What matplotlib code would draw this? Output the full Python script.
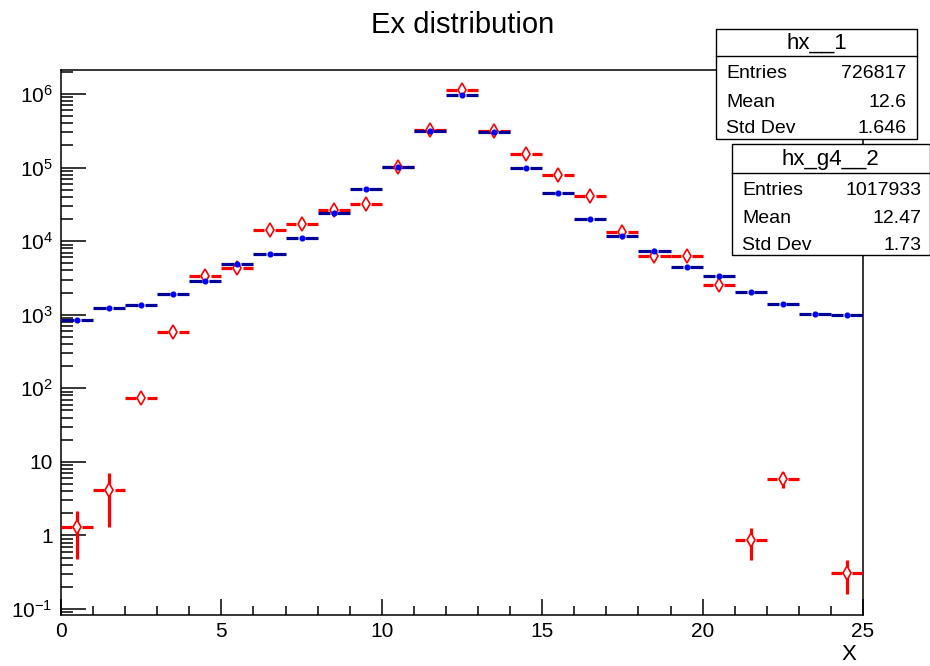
#!/usr/bin/env python3
"""ROOT-style overlay of two Ex histograms (hx__1 vs hx_g4__2) on a log scale."""
import numpy as np
import matplotlib
matplotlib.use("Agg")
import matplotlib.pyplot as plt
from matplotlib.ticker import LogLocator, FixedLocator, MultipleLocator, NullFormatter
from matplotlib.patches import Rectangle

plt.rcParams.update({
    "font.family": ["Liberation Sans", "DejaVu Sans"],
    "mathtext.fontset": "custom",
    "mathtext.rm": "Liberation Sans",
    "mathtext.it": "Liberation Sans",
})

# bin centres (25 unit-wide bins from 0 to 25)
bin_centers = [0.5, 1.5, 2.5, 3.5, 4.5, 5.5, 6.5, 7.5, 8.5, 9.5, 10.5, 11.5, 12.5,
               13.5, 14.5, 15.5, 16.5, 17.5, 18.5, 19.5, 20.5, 21.5, 22.5, 23.5, 24.5]

# hx__1 (blue)
hx1_counts = [850, 1220, 1360, 1920, 2910, 4920, 6600, 10900, 23900, 51900, 102000, 317000,
              980000, 305000, 100000, 44700, 19900, 11700, 7400, 4470, 3330, 2060, 1400, 1020, 980]

# hx_g4__2 (red), 0 = empty bin
hx2_counts = [1.3, 4.2, 75, 590, 3400, 4340, 14100, 16900, 26500, 31700, 102000, 320000,
              1120000, 315000, 152000, 78700, 41700, 13300, 6380, 6380, 2570, 0.87, 5.9, 0, 0.31]
hx2_errors = [0.82, 2.9, 9, 25, 60, 70, 120, 130, 160, 180, 320, 560,
              1060, 560, 390, 280, 200, 115, 80, 80, 50, 0.4, 1.5, 0, 0.15]

stats_boxes = [
    ("hx__1", [("Entries", "726817"), ("Mean", "12.6"), ("Std Dev", "1.646")]),
    ("hx_g4__2", [("Entries", "1017933"), ("Mean", "12.47"), ("Std Dev", "1.73")]),
]

W, H = 930, 666
fig = plt.figure(figsize=(W / 100, H / 100), dpi=100)


def fx(px):
    return px / W


def fy(py):
    return 1 - py / H


ax = fig.add_axes([fx(61), fy(615), fx(863) - fx(61), fy(70) - fy(615)])
ax.set_yscale("log")
ax.set_xlim(0, 25)
ax.set_ylim(0.083, 2.12e6)

half = 0.5


def draw_hist(x, y, err, bar_col, mk_col, marker, ms, gap, face):
    x = np.asarray(x, float)
    y = np.asarray(y, float)
    ok = y > 0
    x, y = x[ok], y[ok]
    ax.hlines(y, x - half, x - gap, color=bar_col, lw=2.3, zorder=3)
    ax.hlines(y, x + gap, x + half, color=bar_col, lw=2.3, zorder=3)
    if err is not None:
        e = np.asarray(err, float)[ok]
        lo = np.maximum(y - e, 1e-3)
        ax.vlines(x, lo, y + e, color=bar_col, lw=2.3, zorder=3)
    ax.plot(x, y, ls="none", marker=marker, ms=ms, mfc=face, mec=mk_col,
            mew=1.2, zorder=4)


draw_hist(bin_centers, hx2_counts, hx2_errors, "#ff0000", "#ff0000", "d", 7.2, 0.17, "white")
draw_hist(bin_centers, hx1_counts, None, "#000099", "#0000ff", "o", 3.2, 0.11, "#0000ff")

# ROOT-like axes
for s in ax.spines.values():
    s.set_linewidth(1.1)
ax.xaxis.set_major_locator(MultipleLocator(5))
ax.xaxis.set_minor_locator(MultipleLocator(1))
ax.yaxis.set_minor_locator(LogLocator(base=10, subs=np.arange(2, 10), numticks=20))
ax.yaxis.set_minor_formatter(NullFormatter())
ytick_vals = [0.1, 1, 10, 1e2, 1e3, 1e4, 1e5, 1e6]
ytick_labels = [r"$\mathregular{10^{-1}}$", "1", "10", r"$\mathregular{10^{2}}$",
                r"$\mathregular{10^{3}}$", r"$\mathregular{10^{4}}$",
                r"$\mathregular{10^{5}}$", r"$\mathregular{10^{6}}$"]
ax.yaxis.set_major_locator(FixedLocator(ytick_vals))
ax.set_yticklabels(ytick_labels)
ax.tick_params(axis="both", which="both", direction="in", top=False, right=False,
               labelsize=15, width=1.1)
ax.tick_params(axis="y", which="major", length=18, pad=6)
ax.tick_params(axis="y", which="minor", length=8.6)
ax.tick_params(axis="x", which="major", length=11.5, pad=5)
ax.tick_params(axis="x", which="minor", length=6.5)

fig.text(fx(849), fy(655), "X", ha="center", va="center", fontsize=16)
fig.text(fx(463), fy(25), "Ex distribution", ha="center", va="center", fontsize=21)

# stat boxes: (left, top, right, sep, bottom) in pixels, row baselines, text x
box_geom = [
    (716, 29, 917, 56, 139, [78, 107, 133], 726, 906),
    (732, 144, 929.5, 173, 255, [195, 223, 250], 742, 921),
]
for (title, rows), (l, t, r, sep, b, ys, tx, vx) in zip(stats_boxes, box_geom):
    fig.patches.append(Rectangle((fx(l), fy(b)), fx(r) - fx(l), fy(t) - fy(b),
                                 transform=fig.transFigure, facecolor="white",
                                 edgecolor="black", lw=1.0, zorder=10))
    fig.add_artist(plt.Line2D([fx(l), fx(r)], [fy(sep), fy(sep)],
                              transform=fig.transFigure, color="black", lw=1.0, zorder=11))
    fig.text(fx((l + r) / 2), fy((t + sep) / 2 + 1), title, ha="center", va="center",
             fontsize=16, zorder=12)
    for (name, val), yy in zip(rows, ys):
        fig.text(fx(tx), fy(yy), name, ha="left", va="baseline", fontsize=14, zorder=12)
        fig.text(fx(vx), fy(yy), val, ha="right", va="baseline", fontsize=14, zorder=12)

fig.savefig("out.png", dpi=100)
